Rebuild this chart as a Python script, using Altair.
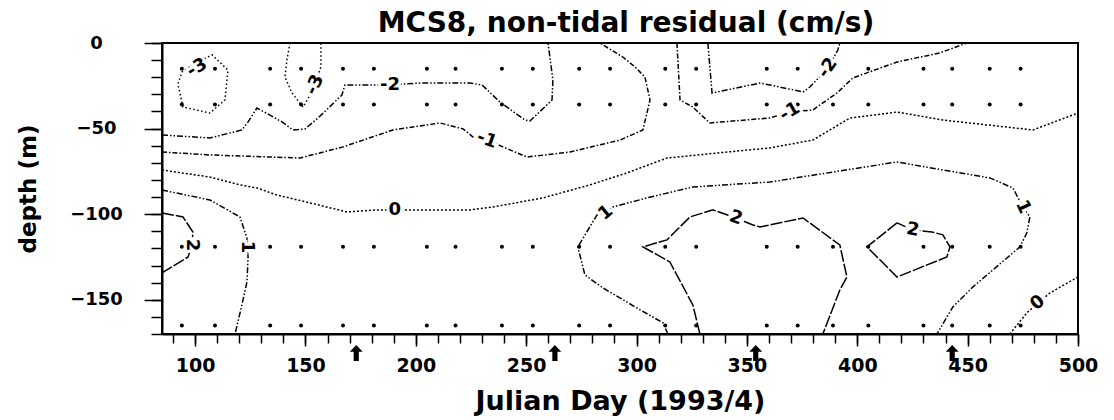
import altair as alt
import pandas as pd

FONT = "DejaVu Sans"

# ---------------- data ----------------
DOT_DAYS = [94, 109, 134, 148, 167, 181, 205, 218, 239, 253, 274, 288,
            313, 327, 359, 373, 389, 405, 430, 443, 460, 474]
DOT_DEPTHS = [-15, -36, -119, -165]

ARROW_DAYS = [173, 263, 354, 443]

X_MAJOR = [100, 150, 200, 250, 300, 350, 400, 450, 500]
X_MINOR = list(range(90, 501, 10))
Y_MAJOR = [0, -50, -100, -150]
Y_MINOR = list(range(0, -171, -10))

# contour polylines (Julian day, depth m)
NEG3_A_DAY = [100.9, 107.7, 114.9, 113.5, 106.7, 94.5, 92.2, 94.1, 100.9]
NEG3_A_DEPTH = [-11.1, -7.0, -15.8, -33.3, -40.9, -37.4, -23.9, -16.9, -11.1]
NEG3_B_DAY = [143.0, 141.6, 140.7, 143.9, 148.9, 153.4, 157.0, 157.0]
NEG3_B_DEPTH = [0, -9.9, -19.9, -29.2, -37.4, -27.5, -14.0, 0]
NEG2_A_DAY = [85, 106.7, 121.2, 124.0, 128.0, 133.9, 139.4, 144.3, 149.8, 155.7,
              166.5, 167.9, 173.3, 188.3, 201.9, 224.5, 230.0, 238.1, 249.4,
              251.7, 261.7, 262.1, 259.9]
NEG2_A_DEPTH = [-53.7, -55.5, -50.8, -46.1, -38.0, -42.1, -46.1, -50.8, -50.2,
                -43.8, -30.4, -24.5, -24.5, -24.5, -23.4, -23.4, -24.5, -34.5,
                -45.0, -45.6, -33.3, -21.6, 0]
NEG2_B_DAY = [332.3, 334.2, 355.9, 360.4, 375.4, 378.5, 386.7, 391.2, 392.1]
NEG2_B_DEPTH = [0, -29.2, -23.4, -24.5, -28.6, -25.7, -14.6, -4.1, 0]
NEG1_A_DAY = [85, 106.7, 147.5, 167.0, 189.6, 210.9, 221.4, 225.9, 232.2, 239.5,
              250.3, 269.8, 292.5, 302.9, 306.1, 303.8, 299.3, 293.8, 283.4]
NEG1_A_DEPTH = [-63.7, -65.4, -67.2, -60.7, -50.8, -46.7, -50.2, -54.9, -56.7,
                -60.7, -66.6, -63.7, -56.7, -50.8, -33.3, -19.9, -14.0, -8.2, 0]
NEG1_B_DAY = [318.3, 319.7, 325.5, 333.2, 360.4, 369.5, 379.9, 390.8, 398.0,
              418.0, 437.4, 449.7]
NEG1_B_DEPTH = [0, -33.3, -37.4, -46.7, -43.8, -40.3, -39.1, -29.2, -20.4,
                -11.1, -5.8, 0]
ZERO_A_DAY = [85, 106.7, 120.3, 128.0, 137.1, 152.0, 168.8, 182.4, 190.5, 199.6,
              224.5, 235.0, 257.6, 278.9, 295.6, 313.8, 341.0, 360.4, 379.9,
              396.7, 418.0, 438.8, 479.6, 500]
ZERO_A_DEPTH = [-74.2, -78.3, -82.9, -84.7, -88.8, -93.4, -98.7, -97.5, -97.5,
                -97.5, -97.5, -95.8, -90.5, -82.9, -75.9, -67.2, -63.7, -61.3,
                -56.7, -43.8, -40.3, -45.0, -50.8, -40.9]
ZERO_B_DAY = [500, 487.3, 481.8, 476.8, 469.1]
ZERO_B_DEPTH = [-136.7, -146.0, -151.9, -157.7, -170]
ONE_A_DAY = [85, 106.7, 120.3, 123.5, 123.5, 124.0, 123.5, 121.2, 118.1]
ONE_A_DEPTH = [-85.9, -91.7, -101.6, -113.9, -119.2, -125.0, -139.6, -153.0, -170]
ONE_B_DAY = [314.2, 312.0, 300.2, 284.8, 276.6, 273.4, 282.1, 286.1, 289.3, 304.7,
             325.5, 360.4, 418.0, 438.8, 460.1, 470.5, 475.0, 478.2, 476.8,
             473.7, 452.4, 443.3, 436.1]
ONE_B_DEPTH = [-170, -163.5, -154.8, -143.1, -135.5, -119.1, -100.4, -99.3, -95.8,
               -90.5, -84.1, -81.2, -69.5, -74.2, -78.8, -84.7, -95.8, -101.6,
               -111.0, -119.1, -142.5, -154.2, -170]
TWO_A_DAY = [85, 94.5, 99.0, 98.6, 96.8, 85]
TWO_A_DEPTH = [-99.3, -101.6, -110.4, -118.0, -125.0, -134.3]
TWO_B_DAY = [328.7, 325.5, 315.1, 302.9, 313.8, 324.2, 334.6, 345.0, 352.7, 355.9,
             375.4, 392.1, 395.3, 392.1, 384.4]
TWO_B_DEPTH = [-170, -153.0, -127.9, -119.1, -115.0, -101.6, -97.5, -102.2, -106.3,
               -107.5, -102.2, -118.0, -136.7, -144.3, -170]
TWO_C_DAY = [418.0, 404.4, 418.0, 440.6, 442.0, 438.8, 433.8, 425.2, 418.0]
TWO_C_DEPTH = [-105.1, -119.1, -136.7, -125.0, -119.1, -112.1, -110.4, -109.2, -105.1]

CONTOURS = [
    ("-3", NEG3_A_DAY, NEG3_A_DEPTH), ("-3", NEG3_B_DAY, NEG3_B_DEPTH),
    ("-2", NEG2_A_DAY, NEG2_A_DEPTH), ("-2", NEG2_B_DAY, NEG2_B_DEPTH),
    ("-1", NEG1_A_DAY, NEG1_A_DEPTH), ("-1", NEG1_B_DAY, NEG1_B_DEPTH),
    ("0", ZERO_A_DAY, ZERO_A_DEPTH), ("0", ZERO_B_DAY, ZERO_B_DEPTH),
    ("1", ONE_A_DAY, ONE_A_DEPTH), ("1", ONE_B_DAY, ONE_B_DEPTH),
    ("2", TWO_A_DAY, TWO_A_DEPTH), ("2", TWO_B_DAY, TWO_B_DEPTH),
    ("2", TWO_C_DAY, TWO_C_DEPTH),
]

LABEL_TEXT = ["-3", "-3", "-2", "-2", "-1", "-1", "0", "0", "1", "1", "1", "2", "2", "2"]
LABEL_DAY = [100.9, 154.3, 188.3, 386.7, 232.2, 369.5, 190.5, 481.8, 123.5, 286.1,
             475.0, 98.6, 345.0, 425.2]
LABEL_DEPTH = [-14.6, -24.5, -24.5, -14.6, -56.7, -40.3, -97.5, -151.9, -119.2,
               -99.3, -95.8, -118.0, -102.2, -109.2]
LABEL_ANGLE = [330, 295, 0, 305, 20, 330, 0, 320, 90, 320, 65, 90, 20, 10]

LEVELS = ["-3", "-2", "-1", "0", "1", "2"]
DASHES = [[1.5, 2.5], [6, 2, 1.5, 2, 1.5, 2], [5, 2, 1.5, 2], [2, 2],
          [6, 2, 1.5, 2, 1.5, 2], [12, 2]]

# ---------------- tables ----------------
rows = []
for cid, (lvl, days, depths) in enumerate(CONTOURS):
    for i, (d, z) in enumerate(zip(days, depths)):
        rows.append({"cid": cid, "level": lvl, "seq": i, "day": d, "depth": z})
lines_df = pd.DataFrame(rows)

dots_df = pd.DataFrame([{"day": d, "depth": z} for z in DOT_DEPTHS for d in DOT_DAYS])
labels_df = pd.DataFrame({"text": LABEL_TEXT, "day": LABEL_DAY,
                          "depth": LABEL_DEPTH, "angle": LABEL_ANGLE})
arrows_df = pd.DataFrame({"day": ARROW_DAYS})

xs = alt.Scale(domain=[85, 500], nice=False, zero=False)
ys = alt.Scale(domain=[-170, 0], nice=False, zero=False)

x_major = alt.Axis(orient="bottom", values=X_MAJOR, tickSize=12, tickWidth=1.5,
                   tickColor="black", domainColor="black", domainWidth=2,
                   labelFont=FONT, labelFontSize=19, labelFontWeight="bold",
                   labelColor="black", labelPadding=10, labelFlush=False,
                   labelOverlap=False, grid=False,
                   title="Julian Day (1993/4)", titleFont=FONT, titleFontSize=27,
                   titleFontWeight="bold", titleColor="black",
                   titleBaseline="alphabetic", titleX=458, titleY=75)
y_major = alt.Axis(orient="left", values=Y_MAJOR, tickSize=18, tickWidth=1.5,
                   tickColor="black", domainColor="black", domainWidth=2,
                   labelFont=FONT, labelFontSize=18, labelFontWeight="bold",
                   labelColor="black", labelAlign="center", labelPadding=48,
                   labelFlush=False, labelOverlap=False, grid=False,
                   title="depth (m)", titleFont=FONT, titleFontSize=23,
                   titleFontWeight="bold", titleColor="black", titleAngle=270,
                   titleBaseline="alphabetic", titleX=-127, titleY=145.5)
x_minor = alt.Axis(orient="bottom", values=X_MINOR, tickSize=9, tickWidth=1.5,
                   tickColor="black", labels=False, domain=False, grid=False, title=None)
y_minor = alt.Axis(orient="left", values=Y_MINOR, tickSize=11, tickWidth=1.5,
                   tickColor="black", labels=False, domain=False, grid=False, title=None)

lines = alt.Chart(lines_df).mark_line(color="black", strokeWidth=1.5).encode(
    x=alt.X("day:Q", scale=xs, axis=x_major),
    y=alt.Y("depth:Q", scale=ys, axis=y_major),
    detail="cid:N",
    order=alt.Order("seq:Q"),
    strokeDash=alt.StrokeDash("level:N", scale=alt.Scale(domain=LEVELS, range=DASHES),
                              legend=None),
)

dots = alt.Chart(dots_df).mark_circle(size=16, color="black", opacity=1).encode(
    x=alt.X("day:Q", scale=xs, axis=x_minor),
    y=alt.Y("depth:Q", scale=ys, axis=y_minor),
)

halo = alt.Chart(labels_df).mark_text(font=FONT, fontSize=18, fontWeight="bold",
                                      color="white", stroke="white", strokeWidth=6,
                                      align="center", baseline="middle").encode(
    x=alt.X("day:Q", scale=xs, axis=None),
    y=alt.Y("depth:Q", scale=ys, axis=None),
    text="text:N",
    angle=alt.Angle("angle:Q", scale=None),
)
labels = alt.Chart(labels_df).mark_text(font=FONT, fontSize=18, fontWeight="bold",
                                        color="black", align="center",
                                        baseline="middle").encode(
    x=alt.X("day:Q", scale=xs, axis=None),
    y=alt.Y("depth:Q", scale=ys, axis=None),
    text="text:N",
    angle=alt.Angle("angle:Q", scale=None),
)

ARROW_SHAPE = "M0,-1L0.8,-0.15L0.32,-0.15L0.32,1L-0.32,1L-0.32,-0.15L-0.8,-0.15Z"
arrows = alt.Chart(arrows_df).mark_point(shape=ARROW_SHAPE, filled=True, size=260,
                                         color="black", opacity=1, yOffset=19).encode(
    x=alt.X("day:Q", scale=xs, axis=None),
    y=alt.YDatum(-170, scale=ys, axis=None),
)

chart = alt.layer(lines, dots, halo, labels, arrows).resolve_axis(
    x="independent", y="independent"
).properties(
    width=916, height=291,
    padding={"left": 162, "top": 43, "right": 36, "bottom": 86},
    autosize=alt.AutoSizeParams(type="none"),
    background="white",
    title=alt.Title("MCS8, non-tidal residual (cm/s)", font=FONT, fontSize=28,
                    fontWeight="bold", color="black", anchor="middle",
                    frame="group", baseline="alphabetic", offset=10, dx=6, dy=36),
).configure_view(stroke="black", strokeWidth=2)

chart.save("out.html", embed_options={"renderer": "svg", "actions": False})
